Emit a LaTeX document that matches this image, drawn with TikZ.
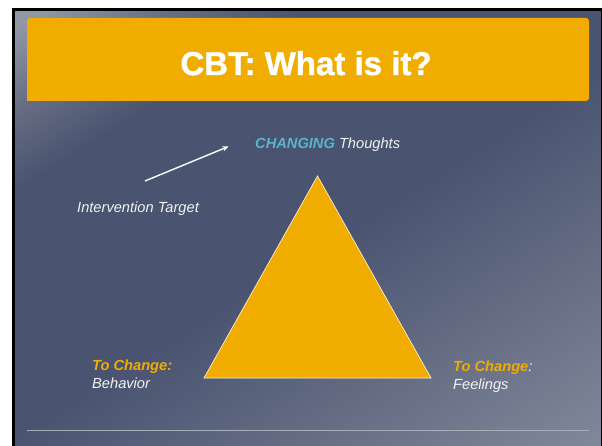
\documentclass[tikz,border=0pt]{standalone}
\usepackage{fontspec}
\setmainfont{Liberation Sans}
\newfontfamily\titlefont{Liberation Sans}[FakeBold=1.2]
\usetikzlibrary{arrows.meta}
\usetikzlibrary{positioning}
\definecolor{slidelight}{HTML}{9297A5}
\definecolor{slidemid}{HTML}{676D83}
\definecolor{slidedark}{HTML}{4A5470}
\definecolor{slidepale}{HTML}{9DA1AE}
\definecolor{cbtorange}{HTML}{F0AD00}
\definecolor{cbtblue}{HTML}{5AB4CE}
\definecolor{cbttext}{HTML}{F2F2F2}
\definecolor{rulegray}{HTML}{A9ADB9}
\pgfdeclarehorizontalshading{slidebg}{100bp}{color(0bp)=(slidelight); color(17bp)=(slidelight); color(24bp)=(slidemid); color(31bp)=(slidedark); color(52bp)=(slidedark); color(100bp)=(slidepale)}
\tikzset{bodytext/.style = {font=\fontsize{14.65}{17.5}\selectfont\itshape, text=cbttext, inner sep=0, anchor=base west}}
\tikzset{orangetext/.style = {bodytext, text=cbtorange, font=\fontsize{14.65}{17.5}\selectfont\bfseries\itshape}}

\begin{document}
\begin{tikzpicture}[x=1pt, y=-1pt]
  \useasboundingbox (0,0) rectangle (602,446);
  \clip (0,0) rectangle (602,446);
  \fill[white] (0,0) rectangle (602,446);
  \draw[line width=3, shading=slidebg, shading angle=-58] (13.5,10) rectangle (602.5,449);
  % title bar
  \fill[cbtorange] (27,101) [rounded corners=3] -- (27,18) -- (589,18) -- (589,101) [sharp corners] -- cycle;
  \node[font=\fontsize{33}{40}\selectfont\titlefont\bfseries, text=white, inner sep=0, anchor=base] (title) at (306,75) {CBT: What is it?};
  \draw[rulegray, line width=1.5] (27,430.5) -- (589,430.5);
  % triangle
  \coordinate (apex) at (317.5,176);
  \coordinate (baseL) at (204,378);
  \coordinate (baseR) at (431,378);
  \filldraw[fill=cbtorange, draw=white!80!cbtorange, line width=0.7] (apex) -- (baseL) -- (baseR) -- cycle;
  \node[bodytext] (thoughts) at (255,149) {\textcolor{cbtblue}{\bfseries CHANGING} Thoughts};
  \node[bodytext] (target) at (77,212.7) {Intervention Target};
  \coordinate (arrowtail) at (145,181);
  \coordinate (arrowtip) at (228.5,146.5);
  \draw[white, line width=1.4, -{Stealth[length=6pt, width=5pt]}] (arrowtail) -- (arrowtip);
  \node[orangetext] (changeB) at (92,370) {To Change:};
  \node[bodytext] (behavior) at ([yshift=-18]changeB.base west) {Behavior};
  \node[bodytext] (changeF) at (453,371.5) {\textcolor{cbtorange}{\bfseries To Change}:};
  \node[bodytext] (feelings) at ([yshift=-18]changeF.base west) {Feelings};
\end{tikzpicture}
\end{document}
